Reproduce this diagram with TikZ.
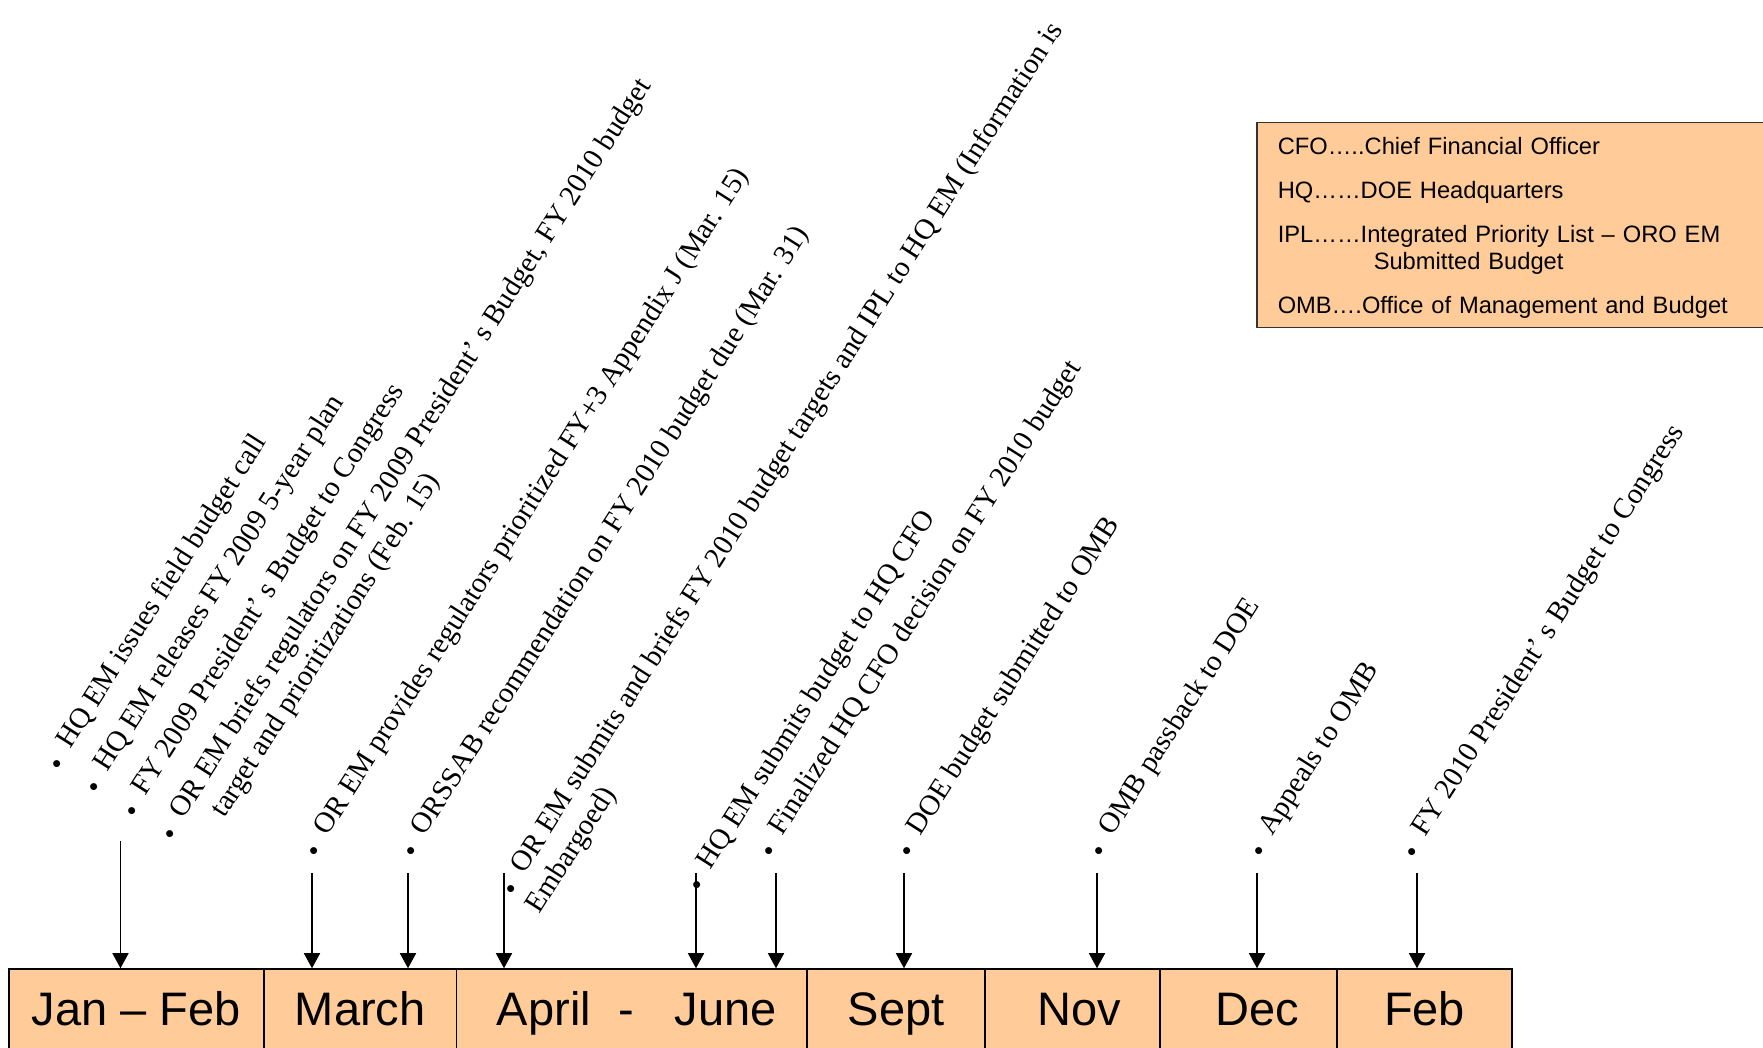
\documentclass[tikz,border=0pt]{standalone}
\usepackage{fontspec}
\setmainfont{Liberation Serif}
\newfontfamily\arialfont{Liberation Sans}
\usetikzlibrary{arrows.meta}
\definecolor{peach}{RGB}{255,204,153}
\newcommand{\bul}{\makebox[0pt]{\raisebox{-0.19em}{\textbullet}}\hspace{9.5pt}}

\begin{document}
\begin{tikzpicture}[x=0.5pt,y=0.5pt]
    \tikzstyle{cell}=[draw, fill=peach, line width=0.75pt, minimum height=44.5pt, inner sep=0pt, font=\arialfont\fontsize{23.5}{28}\selectfont, text height=17pt, text depth=4.5pt];
    \tikzstyle{note}=[xshift=1.7pt, yshift=-1.07pt, anchor=base west, rotate=57.5, inner sep=0pt, align=left, font=\fontsize{14.5}{17}\selectfont];
    \tikzstyle{arr}=[line width=0.75pt, -{Triangle[length=7.5pt,width=8pt]}];
    \tikzstyle{key}=[draw=black!80, fill=peach, line width=0.75pt, align=left, text width=240pt, inner xsep=10.5pt, minimum height=102.5pt, font=\arialfont\fontsize{11.85}{13.8}\selectfont];
    \useasboundingbox (0,0) rectangle (1763,1048);
    \clip (0,0) rectangle (1763,1048);
    % months
    \node[cell, minimum width=127.5pt] (m1) at (136.5,34.5) {Jan – Feb};
    \node[cell, minimum width=96.25pt] (m2) at (360.25,34.5) {March};
    \node[cell, minimum width=175.25pt] (m3) at (631.75,34.5) {\hspace*{5pt}April\hspace{14pt}-\hspace{20pt}June};
    \node[cell, minimum width=89pt] (m4) at (896,34.5) {Sept};
    \node[cell, minimum width=87.5pt] (m5) at (1072.5,34.5) {\hspace*{7pt}Nov};
    \node[cell, minimum width=88.5pt] (m6) at (1248.5,34.5) {\hspace*{9pt}Dec};
    \node[cell, minimum width=87.5pt] (m7) at (1424.5,34.5) {Feb};
    % legend
    \node[key, anchor=north west] (k) at (1256,926) {\rule{0pt}{11.3pt}CFO…..Chief Financial Officer\\[8pt]
        HQ……DOE Headquarters\\[8pt]
        IPL……Integrated Priority List – ORO EM\\
        \hspace*{48pt}Submitted Budget\\[8pt]
        OMB….Office of Management and Budget};
    % events (two-line nodes sit on their last line)
    \node[note] (e1) at (57,284) {\bul HQ EM issues field budget call};
    \node[note] (e2) at (94,261) {\bul HQ EM releases FY 2009 5-year plan};
    \node[note] (e3) at (132,237) {\bul FY 2009 President’ s Budget to Congress};
    \node[note] (e4) at (198.7,195.7) {\bul OR EM briefs regulators on FY 2009 President’ s Budget, FY 2010 budget\\
        \hspace*{21pt}target and prioritizations (Feb. 15)};
    \node[note] (e5) at (314,197) {\bul OR EM provides regulators prioritized FY+3 Appendix J (Mar. 15)};
    \node[note] (e6) at (411,197) {\bul ORSSAB recommendation on FY 2010 budget due (Mar. 31)};
    \node[note] (e7) at (539.7,140.7) {\bul OR EM submits and briefs FY 2010 budget targets and IPL to HQ EM (Information is\\
        \hspace*{-3.2pt}Embargoed)};
    \node[note] (e8) at (697,163) {\bul HQ EM submits budget to HQ CFO};
    \node[note] (e9) at (769,197) {\bul Finalized HQ CFO decision on FY 2010 budget};
    \node[note] (e10) at (907,197) {\bul DOE budget submitted to OMB};
    \node[note] (e11) at (1099,197) {\bul OMB passback to DOE};
    \node[note] (e12) at (1259,197) {\bul Appeals to OMB};
    \node[note] (e13) at (1412,196) {\bul FY 2010 President’ s Budget to Congress};
    % arrows
    \coordinate (a1) at (120.5,207);
    \coordinate (a2) at (312,175);
    \coordinate (a3) at (408,175);
    \coordinate (a4) at (504,175);
    \coordinate (a5) at (696,175);
    \coordinate (a6) at (776,175);
    \coordinate (a7) at (904,175);
    \coordinate (a8) at (1097,175);
    \coordinate (a9) at (1257,175);
    \coordinate (a10) at (1417,175);
    \draw[arr] (a1) -- (a1 |- m1.north);
    \draw[arr] (a2) -- (a2 |- m2.north);
    \draw[arr] (a3) -- (a3 |- m2.north);
    \draw[arr] (a4) -- (a4 |- m3.north);
    \draw[arr] (a5) -- (a5 |- m3.north);
    \draw[arr] (a6) -- (a6 |- m3.north);
    \draw[arr] (a7) -- (a7 |- m4.north);
    \draw[arr] (a8) -- (a8 |- m5.north);
    \draw[arr] (a9) -- (a9 |- m6.north);
    \draw[arr] (a10) -- (a10 |- m7.north);
\end{tikzpicture}
\end{document}
